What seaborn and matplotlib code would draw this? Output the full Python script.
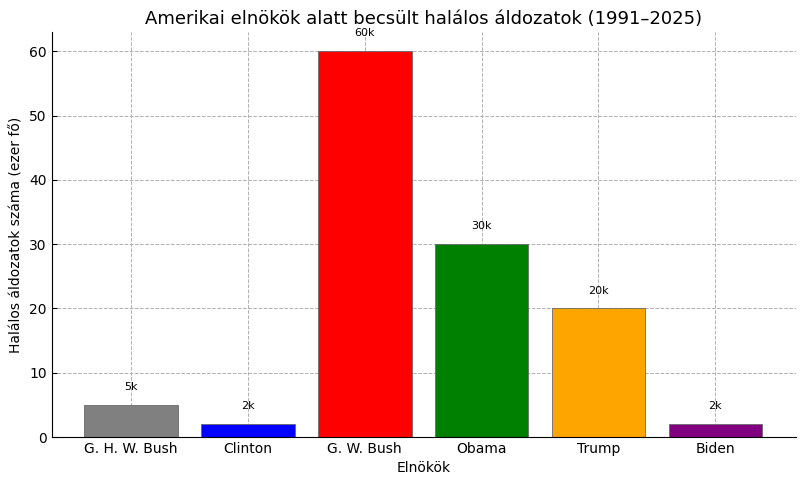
import matplotlib
matplotlib.use("Agg")
import matplotlib.pyplot as plt
import seaborn as sns
import pandas as pd

presidents = ["G. H. W. Bush", "Clinton", "G. W. Bush", "Obama", "Trump", "Biden"]
deaths = [5, 2, 60, 30, 20, 2]
labels = ["5k", "2k", "60k", "30k", "20k", "2k"]
colors = ["gray", "blue", "red", "green", "orange", "purple"]

df = pd.DataFrame({"elnok": presidents, "halalos": deaths})

fig = plt.figure(figsize=(8.08, 4.84), dpi=100)
ax = fig.add_axes([0.064, 0.097, 0.921, 0.837])
sns.barplot(data=df, x="elnok", y="halalos", hue="elnok", palette=colors,
            legend=False, ax=ax, width=0.8, edgecolor="dimgray", linewidth=0.6, saturation=1)

for i, (v, t) in enumerate(zip(deaths, labels)):
    ax.text(i, v + 2, t, ha="center", va="bottom", fontsize=8)

ax.set_ylim(0, 63)
ax.set_xlim(-0.68, 5.69)
ax.set_title("Amerikai elnökök alatt becsült halálos áldozatok (1991–2025)", fontsize=13)
ax.set_xlabel("Elnökök", fontsize=10)
ax.set_ylabel("Halálos áldozatok száma (ezer fő)", fontsize=10)
ax.grid(True, linestyle="--", color="#b0b0b0", linewidth=0.7)
ax.set_axisbelow(True)
ax.tick_params(direction="in", labelsize=10)
ax.spines["top"].set_visible(False)
ax.spines["right"].set_visible(False)

fig.savefig("out.png", dpi=100)
